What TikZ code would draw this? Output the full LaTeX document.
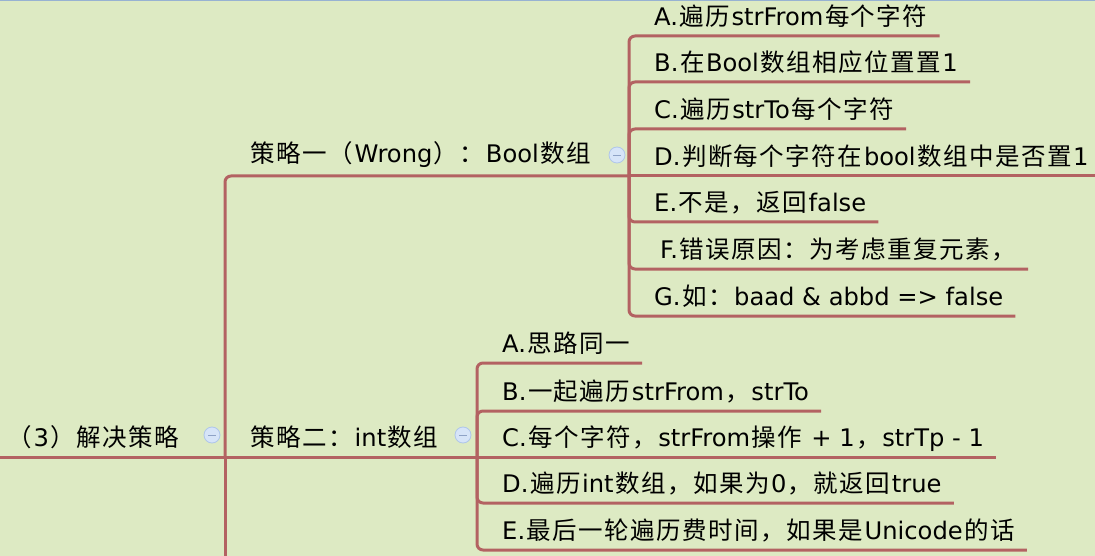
\documentclass[tikz,border=0pt]{standalone}
\usepackage{fontspec}
\setmainfont{DejaVu Sans}
\newfontfamily\cjk{Noto Sans CJK SC}[LetterSpace=6.1]
\newcommand\zh[1]{\hspace{1.5pt}{\cjk\fontsize{24.5}{28}\selectfont #1}\hspace{1.5pt}}
\usetikzlibrary{calc}
\definecolor{bg}{HTML}{DDEAC3}
\definecolor{ln}{HTML}{B36262}
\definecolor{btnf}{HTML}{D6E4F8}
\definecolor{btnd}{HTML}{AFC6EA}
\definecolor{btnm}{HTML}{8EA2C6}
\definecolor{topl}{HTML}{97B2D2}
\begin{document}
\begin{tikzpicture}[x=1pt,y=-1pt,
  conn/.style={draw=ln,line width=3pt,rounded corners=6pt},
  txt/.style={anchor=base west,inner sep=0pt,font=\fontsize{24.2}{28}\selectfont},
  btn/.style={circle,minimum size=16pt,inner sep=0pt,fill=btnf,draw=btnd,line width=0.8pt,
    path picture={\draw[btnm,line width=0.9pt]
      ($(path picture bounding box.center)+(-4,0)$) -- ($(path picture bounding box.center)+(4,0)$);}}]
\fill[bg] (0,0) rectangle (1095,556);
\useasboundingbox (0,0) rectangle (1095,556);
\clip (0,0) rectangle (1095,556);
\fill[topl] (0,0) rectangle (1095,1.5);

\coordinate (r0) at (0,457);
\coordinate (j0) at (225,457);
\coordinate (j1) at (629,176);
\coordinate (j2) at (477,457);
\coordinate (more) at (225,562);

% main nodes
\node[txt] (root) at (6,446) {\zh{（}3\zh{）解决策略}};
\node[txt] (b1) at (249,163) {\zh{策略一（}Wrong\zh{）：}Bool\zh{数组}};
\node[txt] (b2) at (249,446) {\zh{策略二：}int\zh{数组}};

% strategy 1 children
\node[txt] (a1) at (654,25.5) {A.\zh{遍历}strFrom\zh{每个字符}};
\node[txt] (a2) at (654,71.5) {B.\zh{在}Bool\zh{数组相应位置置}1};
\node[txt] (a3) at (654,118.5) {C.\zh{遍历}strTo\zh{每个字符}};
\node[txt] (a4) at (654,165.5) {D.\zh{判断每个字符在}bool\zh{数组中是否置}1};
\node[txt] (a5) at (654,211.5) {E.\zh{不是，返回}false};
\node[txt] (a6) at (660,258.5) {F.\zh{错误原因：为考虑重复元素，}};
\node[txt] (a7) at (654,305.5) {G.\zh{如：}baad \& abbd => false};

% strategy 2 children
\node[txt] (c1) at (502,352.5) {A.\zh{思路同一}};
\node[txt] (c2) at (502,400.5) {B.\zh{一起遍历}strFrom\zh{，}strTo};
\node[txt] (c3) at (502,446.5) {C.\zh{每个字符，}strFrom\zh{操作} + 1\zh{，}strTp - 1};
\node[txt] (c4) at (502,492.5) {D.\zh{遍历}int\zh{数组，如果为}0\zh{，就返回}true};
\node[txt] (c5) at (502,539.5) {E.\zh{最后一轮遍历费时间，如果是}Unicode\zh{的话}};

% connectors
\draw[conn] (r0) -- (j0);
\draw[conn] (j0) -- (more);
\draw[conn] (j0) |- (j1);
\draw[conn] (j0) -- (j2);
\foreach \n in {a1,a2,a3,a5,a6,a7}
  \draw[conn] (j1) |- ($(\n.base east)+(12,10.5)$);
\draw[conn] (j1) -- ($(a4.base east)+(12,10.5)$);
\foreach \n in {c1,c2,c4,c5}
  \draw[conn] (j2) |- ($(\n.base east)+(12,10.5)$);
\draw[conn] (j2) -- ($(c3.base east)+(12,10.5)$);

% collapse buttons
\node[btn] (k0) at (212,435) {};
\node[btn] (k1) at (617,155) {};
\node[btn] (k2) at (463,435) {};
\end{tikzpicture}
\end{document}
